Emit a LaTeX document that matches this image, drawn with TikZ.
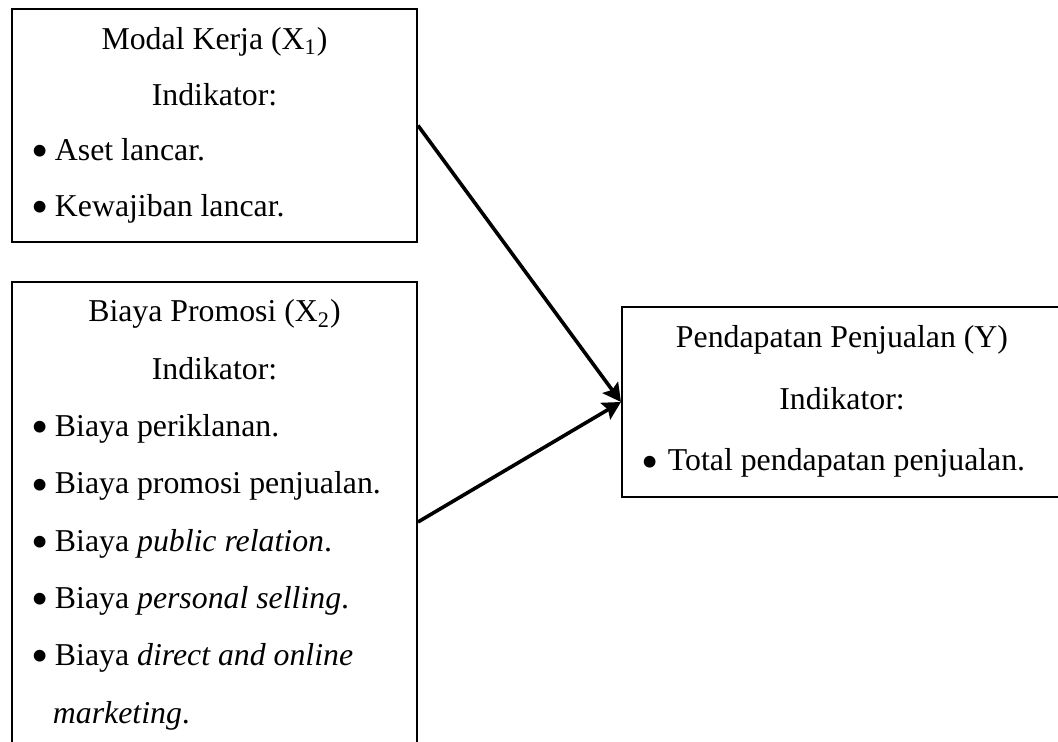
\documentclass[tikz,border=0pt]{standalone}
\usepackage{fontspec}
\setmainfont{Liberation Serif}
\usepackage{tikz}
\usetikzlibrary{arrows.meta,positioning}
\newcommand{\butir}[1][10.5pt]{\makebox[#1][l]{\hspace*{-1pt}\raisebox{-3.6pt}{\scalebox{1.55}{\textbullet}}}}

\begin{document}
\begin{tikzpicture}[
      varbox/.style={draw, line width=1pt, inner xsep=11pt, inner ysep=0pt, align=none},
      pengaruh/.style={line width=1.8pt, -{Stealth[length=9pt, width=9.5pt, inset=1.5pt]}}
    ]
      \useasboundingbox (0,0) rectangle (18.592,13.039);
      \clip (0,0) rectangle (18.592,13.039);

      % Top left: Modal kerja
      \node[varbox, text width=180.5pt, minimum height=4.095cm, font=\fontsize{15.9pt}{27.85pt}\selectfont] (modal) at (3.769, 10.834) {
        \centering Modal Kerja (X\textsubscript{1})\\
        Indikator:\par
        \raggedright
        \butir Aset lancar.\\
        \butir Kewajiban lancar.
      };

      % Bottom left: Biaya promosi
      \node[varbox, text width=180.5pt, minimum height=8.435cm, font=\fontsize{15.9pt}{28.65pt}\selectfont] (promosi) at (3.769, 3.866) {
        \centering Biaya Promosi (X\textsubscript{2})\\
        Indikator:\par
        \raggedright
        \butir Biaya periklanan.\\
        \butir Biaya promosi penjualan.\\
        \butir Biaya \textit{public relation}.\\
        \butir Biaya \textit{personal selling}.\\
        \butir Biaya \textit{direct and online}\\
        \hspace*{9.5pt}\textit{marketing}.\rule[-10.5pt]{0pt}{1pt}
      };

      % Right: Pendapatan penjualan
      \node[varbox, text width=198pt, minimum height=3.339cm, font=\fontsize{15.9pt}{30.75pt}\selectfont] (pendapatan) at (14.796, 5.975) {
        \centering Pendapatan Penjualan (Y)\\
        Indikator:\par
        \raggedright
        \butir[12pt]Total pendapatan penjualan.
      };

      \draw[pengaruh] (modal.east) -- (pendapatan.west);
      \draw[pengaruh] (promosi.east) -- (pendapatan.west);
    \end{tikzpicture}
\end{document}
